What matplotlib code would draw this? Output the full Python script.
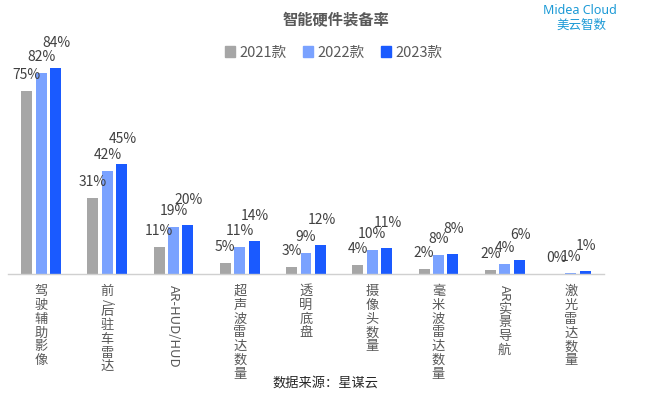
import re
import numpy as np
import matplotlib
matplotlib.use('Agg')
import matplotlib.pyplot as plt
from matplotlib.patches import Patch

plt.rcParams['font.family'] = ['Noto Sans CJK SC', 'DejaVu Sans']

categories = ['驾驶辅助影像', '前/后驻车雷达', 'AR-HUD/HUD', '超声波雷达数量', '透明底盘',
              '摄像头数量', '毫米波雷达数量', 'AR实景导航', '激光雷达数量']
series_names = ['2021款', '2022款', '2023款']
v2021 = [74.7, 31, 11, 4.6, 2.7, 3.6, 2.2, 1.6, 0]
v2022 = [82, 42, 19.2, 11.1, 8.7, 9.9, 7.8, 4, 0.6]
v2023 = [84, 45, 20, 13.6, 11.7, 10.7, 8.2, 5.6, 1.2]
colors = ['#A6A6A6', '#7AA2FF', '#1A5AFF']


def split_runs(label):
    '''
    Splits a label into latin runs (drawn rotated) and CJK runs (drawn upright, stacked)
    '''
    return [(r, bool(re.match(r'[A-Za-z\-/]', r)))
            for r in re.findall(r'[A-Za-z\-/]+|[^A-Za-z\-/]+', label)]


fig = plt.figure(figsize=(6.5, 3.98), dpi=100)
ax = fig.add_axes([8 / 650, 1 - 274 / 398, 596 / 650, 245.2 / 398])

x = np.arange(len(categories))
offset = 0.218
width = 0.166
label_dy = [16, 16, 25]
for k, vals in enumerate([v2021, v2022, v2023]):
    xs = x + (k - 1) * offset
    ax.bar(xs, vals, width=width, color=colors[k], zorder=2)
    for xi, v in zip(xs, vals):
        ax.annotate(f'{v:.0f}%', xy=(xi, v), xytext=(1 if k == 2 else 0, label_dy[k]),
                    textcoords='offset pixels', ha='center', va='center',
                    fontsize=10, color='#404040')

ax.set_xlim(-0.5, 8.5)
ax.set_ylim(0, 100)
for s in ['top', 'right', 'left']:
    ax.spines[s].set_visible(False)
ax.spines['bottom'].set_color('#D0D0D0')
ax.spines['bottom'].set_linewidth(1)
ax.set_yticks([])
ax.set_xticks([])

# vertical category labels
fig.canvas.draw()
renderer = fig.canvas.get_renderer()
for i, lab in enumerate(categories):
    y_off = 11
    for run, latin in split_runs(lab):
        if latin:
            t = ax.annotate(run, xy=(i, 0), xycoords=('data', 'axes fraction'),
                            xytext=(0, -y_off), textcoords='offset pixels',
                            rotation=-90, ha='center', va='top', fontsize=9.5, color='#595959')
        else:
            t = ax.annotate('\n'.join(run), xy=(i, 0), xycoords=('data', 'axes fraction'),
                            xytext=(0, -y_off), textcoords='offset pixels',
                            ha='center', va='top', fontsize=9.5, color='#595959',
                            linespacing=1.08)
        y_off += t.get_window_extent(renderer).height + 1

handles = [Patch(color=c) for c in colors]
fig.legend(handles, series_names, loc='center', bbox_to_anchor=(334 / 650, 1 - 52.7 / 398),
           ncol=3, frameon=False, fontsize=10.5, handlelength=0.7, handleheight=0.7,
           handletextpad=0.3, columnspacing=1.1, labelcolor='#595959')

fig.text(335.5 / 650, 1 - 19.3 / 398, '智能硬件装备率', ha='center', va='center',
         fontsize=11, fontweight='bold', color='#595959')
fig.text(325 / 650, 1 - 383 / 398, '数据来源：星谋云', ha='center', va='center',
         fontsize=9.5, color='#262626')
fig.text(580 / 650, 1 - 10 / 398, 'Midea Cloud', ha='center', va='center',
         fontsize=9, fontweight='bold', color='#1C9AD6', family=['Noto Sans', 'DejaVu Sans'])
fig.text(581 / 650, 1 - 25 / 398, '美云智数', ha='center', va='center',
         fontsize=9, color='#1C9AD6')

fig.savefig('out.png', dpi=100)
